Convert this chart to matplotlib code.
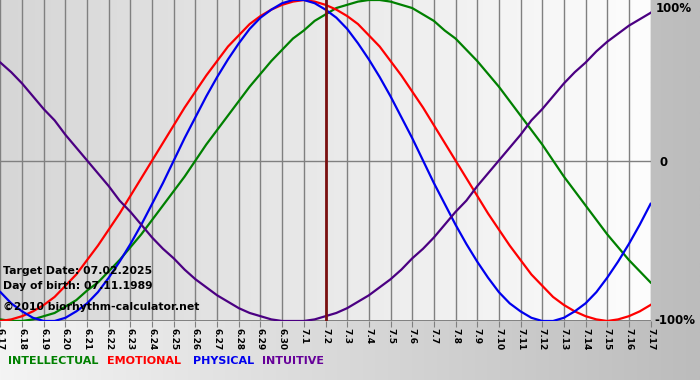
import matplotlib
matplotlib.use('Agg')
import matplotlib.pyplot as plt
from matplotlib.colors import LinearSegmentedColormap
import numpy as np

# Day labels (month.day)
days = ['6.17', '6.18', '6.19', '6.20', '6.21', '6.22', '6.23', '6.24', '6.25', '6.26',
        '6.27', '6.28', '6.29', '6.30', '7.1', '7.2', '7.3', '7.4', '7.5', '7.6',
        '7.7', '7.8', '7.9', '7.10', '7.11', '7.12', '7.13', '7.14', '7.15', '7.16', '7.17']
target_day = '7.2'
step = 0.5  # curve values are read every half day

# Cycle values (-1 .. 1), every half day from 6.17 to 7.17
intellectual = [-0.99, -1.00, -1.00, -0.99, -0.97, -0.95, -0.91, -0.87, -0.81, -0.76,
                -0.69, -0.62, -0.54, -0.46, -0.37, -0.28, -0.19, -0.10, 0.00, 0.10,
                0.19, 0.28, 0.37, 0.46, 0.54, 0.62, 0.69, 0.76, 0.81, 0.87,
                0.91, 0.95, 0.97, 0.99, 1.00, 1.00, 0.99, 0.97, 0.95, 0.91,
                0.87, 0.81, 0.76, 0.69, 0.62, 0.54, 0.46, 0.37, 0.28, 0.19,
                0.10, 0.00, -0.10, -0.19, -0.28, -0.37, -0.46, -0.54, -0.62, -0.69, -0.76]
emotional = [-1.00, -0.99, -0.97, -0.94, -0.90, -0.85, -0.78, -0.71, -0.62, -0.53,
             -0.43, -0.33, -0.22, -0.11, 0.00, 0.11, 0.22, 0.33, 0.43, 0.53,
             0.62, 0.71, 0.78, 0.85, 0.90, 0.94, 0.97, 0.99, 1.00, 0.99,
             0.97, 0.94, 0.90, 0.85, 0.78, 0.71, 0.62, 0.53, 0.43, 0.33,
             0.22, 0.11, 0.00, -0.11, -0.22, -0.33, -0.43, -0.53, -0.62, -0.71,
             -0.78, -0.85, -0.90, -0.94, -0.97, -0.99, -1.00, -0.99, -0.97, -0.94, -0.90]
physical = [-0.82, -0.89, -0.94, -0.98, -1.00, -1.00, -0.98, -0.94, -0.89, -0.82,
            -0.73, -0.63, -0.52, -0.40, -0.27, -0.14, 0.00, 0.14, 0.27, 0.40,
            0.52, 0.63, 0.73, 0.82, 0.89, 0.94, 0.98, 1.00, 1.00, 0.98,
            0.94, 0.89, 0.82, 0.73, 0.63, 0.52, 0.40, 0.27, 0.14, 0.00,
            -0.14, -0.27, -0.40, -0.52, -0.63, -0.73, -0.82, -0.89, -0.94, -0.98,
            -1.00, -1.00, -0.98, -0.94, -0.89, -0.82, -0.73, -0.63, -0.52, -0.40, -0.27]
intuitive = [0.61, 0.55, 0.48, 0.40, 0.32, 0.25, 0.16, 0.08, 0.00, -0.08,
             -0.16, -0.25, -0.32, -0.40, -0.48, -0.55, -0.61, -0.68, -0.74, -0.79,
             -0.84, -0.88, -0.92, -0.95, -0.97, -0.99, -1.00, -1.00, -1.00, -0.99,
             -0.97, -0.95, -0.92, -0.88, -0.84, -0.79, -0.74, -0.68, -0.61, -0.55,
             -0.48, -0.40, -0.32, -0.25, -0.16, -0.08, 0.00, 0.08, 0.16, 0.25,
             0.32, 0.40, 0.48, 0.55, 0.61, 0.68, 0.74, 0.79, 0.84, 0.88, 0.92]

series = [('INTELLECTUAL', intellectual, '#008000', '#008000'),
          ('EMOTIONAL', emotional, '#ff0000', '#ff0000'),
          ('PHYSICAL', physical, '#0000ee', '#0000ee'),
          ('INTUITIVE', intuitive, '#4b0082', '#660099')]

info = ['Target Date: 07.02.2025', 'Day of birth: 07.11.1989', '\u00a92010 biorhythm-calculator.net']

W, H = 700, 380
fig = plt.figure(figsize=(W/100, H/100), dpi=100)

# figure background: horizontal gradient light -> gray
grad = np.linspace(0, 1, 256).reshape(1, -1)
bg = fig.add_axes([0, 0, 1, 1], zorder=-10)
bg.imshow(grad, aspect='auto', extent=[0, 1, 0, 1],
          cmap=LinearSegmentedColormap.from_list('bg', ['#f4f4f4', '#bcbcbc']))
bg.axis('off')

# plot area (pixels)
px_r, px_b = 651, 321
ax = fig.add_axes([0, 1 - px_b/H, px_r/W, px_b/H])
x = np.arange(len(days))
xl = (-0.02, len(days) - 1 + 0.02)
ax.set_xlim(*xl)
ax.set_ylim(-1.0, 1.0)
ax.imshow(grad, aspect='auto', extent=[xl[0], xl[1], -1, 1], zorder=0,
          cmap=LinearSegmentedColormap.from_list('pa', ['#d6d6d6', '#fdfdfd']))

# grid
for xi in x:
    ax.axvline(xi, color='#808080', lw=1.0, zorder=1)
ax.axhline(0, color='#808080', lw=1.0, zorder=1)
ax.axhline(-1, color='#808080', lw=1.4, zorder=1)

# curves
for name, vals, col, tcol in series:
    xs = np.arange(len(vals)) * step
    ax.plot(xs, vals, color=col, lw=1.6, zorder=3, solid_joinstyle='round')

# target day marker
ax.axvline(days.index(target_day), color='#7a1010', lw=2.0, zorder=4)

for s in ax.spines.values():
    s.set_visible(False)
ax.set_xticks(x)
ax.set_xticklabels(days, rotation=-90, fontsize=6.5, fontweight='bold')
ax.tick_params(axis='x', length=4, color='#808080', pad=1)
ax.set_yticks([])

# info text in lower left of plot
for t, yy in zip(info, [271, 286, 307]):
    fig.text(3/W, 1 - yy/H, t, fontsize=7.8, fontweight='bold', va='center', ha='left', zorder=5)

# right side labels
for lab, yy, xx in [('100%', 9, 656), ('0', 162, 660), ('-100%', 321, 654)]:
    fig.text(xx/W, 1 - yy/H, lab, fontsize=8.5, fontweight='bold', va='center', ha='left')

# legend words
leg_x = [8, 107, 193, 262]
for (name, vals, col, tcol), lx in zip(series, leg_x):
    fig.text(lx/W, 1 - 361/H, name, color=tcol, fontsize=8, fontweight='bold',
             va='center', ha='left')

plt.savefig('out.png', dpi=100)
